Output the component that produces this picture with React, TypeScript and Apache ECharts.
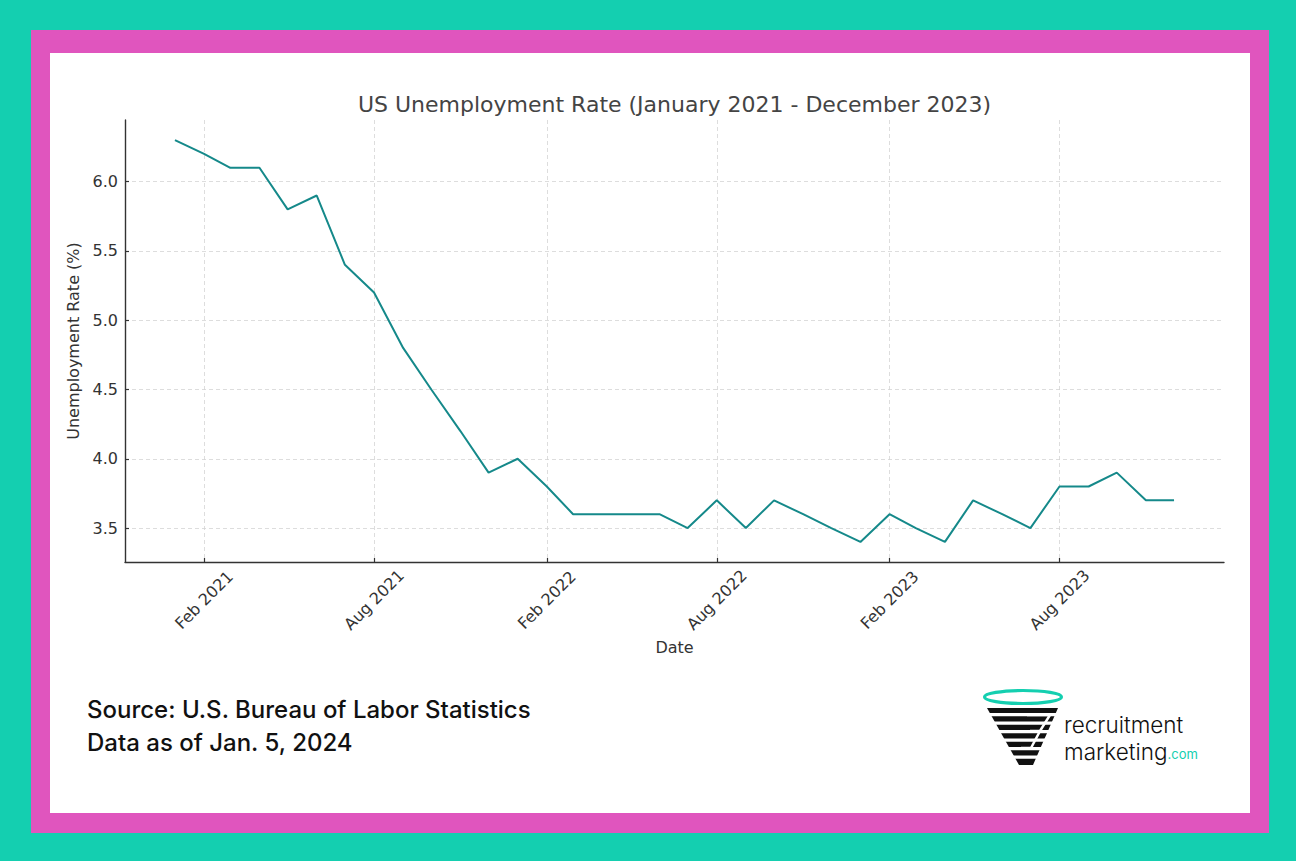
import React, { useEffect, useRef } from "react";
import * as echarts from "echarts";

const months = [
  "2021-01", "2021-02", "2021-03", "2021-04", "2021-05", "2021-06",
  "2021-07", "2021-08", "2021-09", "2021-10", "2021-11", "2021-12",
  "2022-01", "2022-02", "2022-03", "2022-04", "2022-05", "2022-06",
  "2022-07", "2022-08", "2022-09", "2022-10", "2022-11", "2022-12",
  "2023-01", "2023-02", "2023-03", "2023-04", "2023-05", "2023-06",
  "2023-07", "2023-08", "2023-09", "2023-10", "2023-11", "2023-12",
];
const rates = [
  6.3, 6.2, 6.1, 6.1, 5.8, 5.9, 5.4, 5.2, 4.8, 4.5, 4.2, 3.9,
  4.0, 3.8, 3.6, 3.6, 3.6, 3.6, 3.5, 3.7, 3.5, 3.7, 3.6, 3.5,
  3.4, 3.6, 3.5, 3.4, 3.7, 3.6, 3.5, 3.8, 3.8, 3.9, 3.7, 3.7,
];
const xTickMonths = ["2021-02", "2021-08", "2022-02", "2022-08", "2023-02", "2023-08"];
const yTicks = [3.5, 4.0, 4.5, 5.0, 5.5, 6.0];
const monthNames = ["Jan", "Feb", "Mar", "Apr", "May", "Jun", "Jul", "Aug", "Sep", "Oct", "Nov", "Dec"];

const toTs = (m: string) => {
  const [y, mo] = m.split("-").map(Number);
  return Date.UTC(y, mo - 1, 1);
};

const TEAL = "#14cfb0";
const PINK = "#e055be";
const LINE = "#15898a";

export default function App() {
  const ref = useRef<HTMLDivElement>(null);

  useEffect(() => {
    if (!ref.current) return;
    echarts.graphic.registerShape(
      "logoCone",
      echarts.graphic.extendPath(
        "M987 708 L1058 708 L1033 765 L1019 765 Z",
        {}
      )
    );
    const chart = echarts.init(ref.current, undefined, { renderer: "svg" });
    const data = months.map((m, i) => [toTs(m), rates[i]]);
    const t0 = toTs(months[0]);
    const t1 = toTs(months[months.length - 1]);
    const pad = (t1 - t0) * 0.05;
    const rMin = Math.min(...rates);
    const rMax = Math.max(...rates);
    const rPad = (rMax - rMin) * 0.05;
    const xTicks = xTickMonths.map(toTs);
    const font = "DejaVu Sans";
    const gaps = [713, 721.5, 730, 738.5, 747, 755.5];

    chart.setOption({
      animation: false,
      backgroundColor: "transparent",
      grid: { left: 125, right: 72, top: 120, bottom: 299, containLabel: false },
      xAxis: {
        type: "value",
        min: t0 - pad,
        max: t1 + pad,
        name: "Date",
        nameLocation: "middle",
        nameGap: 77,
        nameTextStyle: { fontFamily: font, fontSize: 16, color: "#333" },
        axisLine: { onZero: false, lineStyle: { color: "#333", width: 1.4 } },
        axisTick: { show: true, inside: true, length: 4, customValues: xTicks, lineStyle: { color: "#333", width: 1.2 } },
        axisLabel: {
          customValues: xTicks,
          rotate: 45,
          align: "center",
          verticalAlign: "middle",
          margin: 38,
          fontFamily: font,
          fontSize: 16,
          color: "#333",
          formatter: (v: number) => {
            const d = new Date(v);
            return monthNames[d.getUTCMonth()] + " " + d.getUTCFullYear();
          },
        },
        splitLine: { show: true, lineStyle: { color: "#d4d4d4", type: [4, 3], width: 0.8 } },
      },
      yAxis: {
        type: "value",
        min: rMin - rPad,
        max: rMax + rPad,
        name: "Unemployment Rate (%)",
        nameLocation: "middle",
        nameGap: 39,
        nameTextStyle: { fontFamily: font, fontSize: 16, color: "#333" },
        axisLine: { show: true, lineStyle: { color: "#333", width: 1.4 } },
        axisTick: { show: true, inside: true, length: 4, customValues: yTicks, lineStyle: { color: "#333", width: 1.2 } },
        axisLabel: {
          customValues: yTicks,
          margin: 7,
          fontFamily: font,
          fontSize: 16,
          color: "#333",
          formatter: (v: number) => v.toFixed(1),
        },
        splitLine: { show: true, lineStyle: { color: "#d4d4d4", type: [4, 3], width: 0.8 } },
      },
      series: [
        {
          type: "line",
          data,
          symbol: "none",
          lineStyle: { color: LINE, width: 2 },
          z: 5,
        },
      ],
      graphic: [
        {
          type: "text",
          x: 674.5,
          y: 104,
          style: {
            text: "US Unemployment Rate (January 2021 - December 2023)",
            fontFamily: font,
            fontSize: 22,
            fill: "#444",
            textAlign: "center",
            textVerticalAlign: "middle",
          },
        },
        {
          type: "text",
          x: 87,
          y: 709,
          style: {
            text: "Source: U.S. Bureau of Labor Statistics",
            fontFamily: "Inter",
            fontWeight: 500,
            fontSize: 24,
            fill: "#111",
            textAlign: "left",
            textVerticalAlign: "middle",
          },
        },
        {
          type: "text",
          x: 87,
          y: 742,
          style: {
            text: "Data as of Jan. 5, 2024",
            fontFamily: "Inter",
            fontWeight: 500,
            fontSize: 24,
            fill: "#111",
            textAlign: "left",
            textVerticalAlign: "middle",
          },
        },
        // logo
        { type: "logoCone", style: { fill: "#111" } },
        ...gaps.map((g) => ({
          type: "rect",
          shape: { x: 984, y: g, width: 80, height: 3.3 },
          style: { fill: "#fff" },
        })),
        {
          type: "polyline",
          shape: { points: [[1027, 715], [1050, 715], [1040, 731], [1030, 731], [1040, 731], [1031, 748], [1021, 748]] },
          style: { stroke: "#fff", lineWidth: 2.5, fill: "none" },
        },
        {
          type: "ellipse",
          shape: { cx: 1023, cy: 697, rx: 38.5, ry: 6.5 },
          style: { fill: "#fff", stroke: TEAL, lineWidth: 3.2 },
        },
        {
          type: "text",
          x: 1064,
          y: 724,
          style: {
            text: "recruitment",
            fontFamily: "Inter",
            fontWeight: 300,
            fontSize: 22.5,
            lineHeight: 22,
            fill: "#111",
            textAlign: "left",
            textVerticalAlign: "middle",
          },
        },
        {
          type: "text",
          x: 1064,
          y: 751,
          style: {
            text: "{a|marketing}{b|.com}",
            rich: {
              a: { fontFamily: "Inter", fontWeight: 300, fontSize: 22.5, fill: "#111", lineHeight: 22 },
              b: { fontFamily: "Inter", fontWeight: 400, fontSize: 13, fill: TEAL, lineHeight: 13, verticalAlign: "bottom", padding: [0, 0, 2, 0] },
            },
            textAlign: "left",
            textVerticalAlign: "middle",
          },
        },
      ],
    });
    return () => chart.dispose();
  }, []);

  return (
    <div style={{ position: "fixed", left: 0, top: 0, width: 1296, height: 861, background: TEAL }}>
      <div style={{ position: "absolute", left: 31, top: 30, width: 1238, height: 803, background: PINK }} />
      <div style={{ position: "absolute", left: 50, top: 53, width: 1200, height: 760, background: "#fff" }} />
      <div ref={ref} style={{ position: "absolute", left: 0, top: 0, width: 1296, height: 861 }} />
    </div>
  );
}
